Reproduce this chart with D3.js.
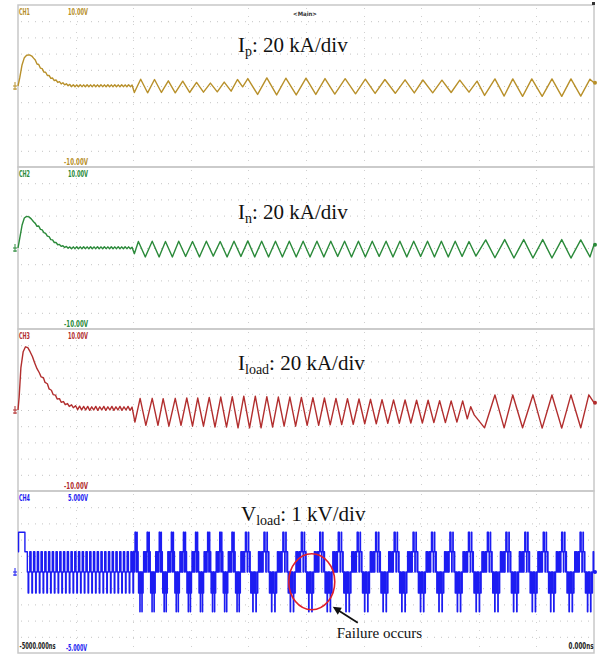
<!DOCTYPE html>
<html>
<head>
<meta charset="utf-8">
<script src="https://cdn.jsdelivr.net/npm/d3@7"></script>
<style>
  body { margin: 0; background: #fff; }
  svg { display: block; }
</style>
</head>
<body>
<div id="scope"></div>
<script>
// ---- data: x in horizontal divisions (0..10), y in vertical divisions from ground ----
const timeLabels = ["-5000.000ns", "0.000ns"];
const chNames = ["CH1", "CH2", "CH3", "CH4"];
const topLabels = ["10.00V", "10.00V", "10.00V", "5.000V"];
const bottomLabels = ["-10.00V", "-10.00V", "-10.00V", "-5.000V"];
const chColors = ["#b8902a", "#2b8a3a", "#b22e2e", "#1c1cf2"];
const titleBase = ["I", "I", "I", "V"];
const titleSub = ["p", "n", "load", "load"];
const titleRest = [": 20 kA/div", ": 20 kA/div", ": 20 kA/div", ": 1 kV/div"];
const titleBaselines = [52, 219, 370, 521];

const ipPoints = [
  [0,0],[0.03,0.5],[0.07,1.3],[0.11,1.75],[0.15,1.9],[0.2,1.92],[0.24,1.85],[0.27,1.72],
  [0.30,1.60],[0.33,1.36],[0.36,1.33],[0.39,1.10],[0.42,1.07],[0.45,0.86],[0.48,0.85],[0.51,0.65],
  [0.54,0.65],[0.57,0.47],[0.60,0.49],[0.63,0.33],[0.66,0.37],[0.69,0.22],[0.72,0.27],[0.75,0.13],
  [0.78,0.20],[0.81,0.07],[0.84,0.14],[0.87,0.02],[0.90,0.10],
  [0.93,-0.04],[0.96,0.08],[0.99,-0.05],[1.02,0.07],[1.05,-0.05],[1.08,0.08],[1.11,-0.04],[1.14,0.07],
  [1.17,-0.05],[1.20,0.08],[1.23,-0.05],[1.26,0.07],[1.29,-0.04],[1.32,0.08],[1.35,-0.05],[1.38,0.07],
  [1.41,-0.05],[1.44,0.08],[1.47,-0.04],[1.50,0.07],[1.53,-0.05],[1.56,0.08],[1.59,-0.05],[1.62,0.07],
  [1.65,-0.04],[1.68,0.08],[1.71,-0.05],[1.74,0.07],[1.77,-0.05],[1.80,0.08],[1.83,-0.04],[1.86,0.07],
  [1.89,-0.05],[1.92,0.08],[1.95,-0.04],[1.98,0.06],
  [2.02,-0.40],[2.13,0.42],[2.25,-0.42],[2.37,0.40],[2.49,-0.40],[2.61,0.32],[2.73,-0.42],[2.86,0.30],
  [2.98,-0.40],[3.10,0.22],[3.22,-0.38],[3.34,0.18],[3.46,-0.36],[3.58,0.24],[3.70,-0.32],[3.81,0.40],
  [3.90,-0.05],[3.99,0.46],[4.16,-0.52],[4.32,0.50],[4.49,-0.55],[4.65,0.48],[4.83,-0.55],[5.00,0.48],
  [5.17,-0.52],[5.33,0.46],[5.50,-0.50],[5.68,0.45],[5.86,-0.48],[6.03,0.42],[6.20,-0.46],[6.37,0.40],
  [6.55,-0.45],[6.72,0.38],[6.88,-0.43],[7.03,0.37],[7.20,-0.42],[7.36,0.36],[7.52,-0.40],[7.67,0.36],
  [7.83,-0.38],[7.97,0.30],[8.10,-0.58],[8.28,0.44],[8.44,-0.62],[8.59,0.44],[8.76,-0.64],[8.92,0.44],
  [9.10,-0.64],[9.27,0.44],[9.44,-0.64],[9.60,0.44],[9.77,-0.62],[9.93,0.42],[10.0,0.2]
];

const inPoints = [
  [0,0],[0.03,0.6],[0.07,1.4],[0.11,1.85],[0.15,1.95],[0.19,1.92],[0.23,1.8],[0.27,1.62],
  [0.30,1.52],[0.33,1.34],[0.36,1.36],[0.39,1.15],[0.42,1.12],[0.45,0.95],[0.48,0.90],[0.51,0.73],
  [0.54,0.70],[0.57,0.52],[0.60,0.50],[0.63,0.34],[0.66,0.34],[0.69,0.20],[0.72,0.22],[0.75,0.10],
  [0.78,0.14],[0.81,0.03],[0.84,0.10],[0.87,-0.02],[0.90,0.07],
  [0.93,-0.05],[0.96,0.07],[0.99,-0.04],[1.02,0.08],[1.05,-0.05],[1.08,0.07],[1.11,-0.05],[1.14,0.08],
  [1.17,-0.04],[1.20,0.07],[1.23,-0.05],[1.26,0.08],[1.29,-0.05],[1.32,0.07],[1.35,-0.04],[1.38,0.08],
  [1.41,-0.05],[1.44,0.07],[1.47,-0.05],[1.50,0.08],[1.53,-0.04],[1.56,0.07],[1.59,-0.05],[1.62,0.08],
  [1.65,-0.05],[1.68,0.07],[1.71,-0.04],[1.74,0.08],[1.77,-0.05],[1.80,0.07],[1.83,-0.05],[1.86,0.08],
  [1.89,-0.04],[1.92,0.07],[1.95,-0.05],[1.98,0.05],
  [2.02,-0.35],[2.09,0.40],[2.21,-0.55],[2.33,0.42],[2.45,-0.55],[2.56,0.40],[2.68,-0.55],[2.79,0.42],
  [2.91,-0.52],[3.03,0.40],[3.15,-0.55],[3.27,0.42],[3.39,-0.50],[3.51,0.40],[3.63,-0.55],[3.75,0.42],
  [3.87,-0.52],[3.99,0.44],[4.11,-0.55],[4.23,0.42],[4.35,-0.55],[4.47,0.42],[4.59,-0.55],[4.71,0.42],
  [4.83,-0.55],[4.95,0.42],[5.07,-0.55],[5.19,0.42],[5.31,-0.55],[5.43,0.42],[5.55,-0.52],[5.67,0.42],
  [5.79,-0.55],[5.91,0.42],[6.03,-0.55],[6.15,0.42],[6.27,-0.52],[6.39,0.42],[6.51,-0.55],[6.63,0.42],
  [6.75,-0.55],[6.87,0.42],[6.99,-0.52],[7.11,0.42],[7.23,-0.55],[7.35,0.42],[7.47,-0.55],[7.59,0.42],
  [7.71,-0.52],[7.83,0.40],[7.95,-0.50],[8.12,0.50],[8.28,-0.60],[8.45,0.52],[8.61,-0.62],[8.78,0.52],
  [8.94,-0.62],[9.11,0.52],[9.27,-0.62],[9.44,0.52],[9.60,-0.62],[9.77,0.50],[9.93,-0.55],[10.0,0.2]
];

const iloadPoints = [
  [0,0],[0.02,0.8],[0.05,2.6],[0.09,3.6],[0.13,3.9],[0.17,3.85],[0.21,3.6],[0.25,3.3],[0.29,2.9],
  [0.33,2.55],[0.37,2.3],[0.40,2.05],[0.44,2.0],[0.47,1.7],[0.51,1.62],[0.54,1.3],[0.58,1.22],
  [0.61,0.95],[0.65,0.92],[0.68,0.68],[0.72,0.70],[0.75,0.48],[0.79,0.52],[0.82,0.33],[0.86,0.40],
  [0.89,0.22],[0.93,0.32],[0.96,0.14],[1.00,0.26],
  [1.035,0.02],[1.07,0.24],[1.105,0.0],[1.14,0.22],[1.175,0.0],[1.21,0.22],[1.245,-0.02],[1.28,0.2],
  [1.315,0.0],[1.35,0.22],[1.385,-0.02],[1.42,0.2],[1.455,0.0],[1.49,0.22],[1.525,-0.02],[1.56,0.2],
  [1.595,0.0],[1.63,0.22],[1.665,-0.02],[1.70,0.2],[1.735,0.0],[1.77,0.22],[1.805,-0.02],[1.84,0.2],
  [1.875,0.0],[1.91,0.22],[1.945,-0.02],[1.98,0.18],
  [2.03,-0.75],[2.12,0.72],[2.22,-0.95],[2.33,0.72],[2.43,-0.95],[2.52,0.70],[2.62,-1.0],[2.73,0.72],
  [2.83,-0.95],[2.93,0.74],[3.03,-1.0],[3.12,0.74],[3.22,-1.0],[3.32,0.78],[3.42,-1.05],[3.52,0.80],
  [3.62,-1.05],[3.72,0.82],[3.82,-1.1],[3.92,0.85],[4.02,-1.1],[4.12,0.85],[4.22,-1.1],[4.32,0.82],
  [4.42,-1.05],[4.52,0.80],[4.62,-1.0],[4.72,0.80],[4.82,-1.0],[4.92,0.78],[5.02,-0.95],[5.12,0.76],
  [5.22,-0.95],[5.32,0.74],[5.42,-0.92],[5.52,0.72],[5.62,-0.9],[5.72,0.70],[5.82,-0.88],[5.92,0.68],
  [6.02,-0.85],[6.12,0.66],[6.22,-0.85],[6.32,0.64],[6.42,-0.82],[6.52,0.62],[6.62,-0.82],[6.72,0.62],
  [6.82,-0.8],[6.92,0.60],[7.02,-0.8],[7.12,0.60],[7.22,-0.78],[7.32,0.58],[7.42,-0.78],[7.52,0.56],
  [7.62,-0.75],[7.72,0.56],[7.80,-0.55],[7.86,0.2],[7.92,-0.3],[8.10,-1.1],[8.28,0.93],[8.44,-1.1],
  [8.59,0.93],[8.76,-1.1],[8.94,0.93],[9.10,-1.12],[9.27,0.93],[9.44,-1.12],[9.60,0.93],[9.77,-1.1],
  [9.91,0.93],[10.0,0.45]
];

// Vload: multilevel output, levels in divisions
const vLevels = [2.45, 1.25, 0, -1.3, -2.45];
const vStart = [[0,1.25],[0.01,2.45],[0.12,1.25],[0.14,1.25]];
const vPulseStarts = [0.14,0.205,0.27,0.335,0.40,0.465,0.53,0.595,0.66,0.725,0.79,0.855,0.92,0.985,
  1.05,1.115,1.18,1.245,1.31,1.375,1.44,1.505,1.57,1.635,1.70,1.765,1.83,1.895,1.96];
const vPulseShape = [[0,1],[0.022,2],[0.036,3],[0.046,2]];       // [offset, level index]
const vCycleStarts = [2.0,2.21,2.42,2.63,2.84,3.05,3.26,3.47,3.68,3.9,4.22,4.55,4.87,5.19,5.51,
  5.84,6.16,6.48,6.81,7.13,7.45,7.77,8.1,8.42,8.75,9.07,9.39,9.71];
// one fundamental cycle: [fraction of cycle, level index]
const vCycleShape = [
  [0,2],[0.03,1],[0.05,2],[0.07,1],[0.09,2],[0.11,1],[0.15,0],[0.17,1],[0.19,0],[0.21,1],
  [0.25,2],[0.27,1],[0.31,0],[0.33,1],[0.37,2],[0.39,1],[0.41,2],[0.44,3],[0.46,2],[0.48,3],
  [0.50,2],[0.52,3],[0.55,4],[0.57,3],[0.59,2],[0.61,3],[0.63,2],[0.65,3],[0.67,2],[0.69,3],
  [0.72,4],[0.74,3],[0.77,2],[0.79,3],[0.82,2],[0.86,1],[0.89,2],[0.93,1],[0.96,2]
];

// annotation
const failureLabel = "Failure occurs";
const failureSpot = [5.1, -0.6];   // centre of the red circle (div)

// ---- layout ----
const W = 608, H = 660;
const left = 18, right = 594, panelTop = 5, panelH = 162;
const labFont = "'DejaVu Sans Condensed', 'DejaVu Sans', sans-serif";

const svg = d3.select("#scope").append("svg")
  .attr("width", W).attr("height", H);

const x = d3.scaleLinear().domain([0, 10]).range([left, right]);

function smallLabel(g, px, py, txt, color, len, anchor) {
  return g.append("text").attr("x", px).attr("y", py)
    .attr("text-anchor", anchor || "start")
    .attr("font-family", labFont).attr("font-weight", "bold").attr("font-size", 8)
    .attr("fill", color).attr("textLength", len).attr("lengthAdjust", "spacingAndGlyphs")
    .text(txt);
}

chNames.forEach(function(name, i) {
  const top = panelTop + i * panelH;
  const y = d3.scaleLinear().domain([-5, 5]).range([top + panelH, top]);
  const g = svg.append("g");

  // dotted grid
  g.selectAll(".hgrid").data(d3.range(-4, 5)).enter().append("line")
    .attr("x1", left + 3).attr("x2", right - 2)
    .attr("y1", d => y(d) + 0.5).attr("y2", d => y(d) + 0.5)
    .attr("stroke", "#c4c4c4").attr("stroke-width", 1)
    .attr("stroke-dasharray", "1,6");
  g.selectAll(".vgrid").data(d3.range(1, 10)).enter().append("line")
    .attr("x1", d => Math.round(x(d)) + 0.5).attr("x2", d => Math.round(x(d)) + 0.5)
    .attr("y1", top + 3).attr("y2", top + panelH - 2)
    .attr("stroke", "#cfcfcf").attr("stroke-width", 1)
    .attr("stroke-dasharray", "1,7");

  // panel frame
  g.append("rect")
    .attr("x", left).attr("y", top)
    .attr("width", right - left).attr("height", panelH)
    .attr("fill", "none").attr("stroke", "#c8c8c8").attr("stroke-width", 1.5);

  // channel labels
  smallLabel(g, left + 1, top + 10, name, chColors[i], 11);
  smallLabel(g, 68, top + 10, topLabels[i], chColors[i], 20);
  if (i < 3) smallLabel(g, 64, top + panelH - 2, bottomLabels[i], chColors[i], 24);
  else smallLabel(g, 66, top + panelH - 2, bottomLabels[i], chColors[i], 21);

  // ground marker
  g.append("path")
    .attr("d", `M${left - 5},${y(0)} h4 M${left - 3},${y(0) - 4} v8 M${left - 5},${y(0) + 3} h4`)
    .attr("stroke", chColors[i]).attr("stroke-width", 1).attr("fill", "none");

  // title
  const t = g.append("text")
    .attr("x", i === 3 ? 241 : 238).attr("y", titleBaselines[i])
    .attr("font-family", "'Liberation Serif', 'Times New Roman', serif")
    .attr("font-size", 21).attr("fill", "#111");
  t.append("tspan").text(titleBase[i]);
  t.append("tspan").attr("font-size", 14).attr("dy", 4).text(titleSub[i]);
  t.append("tspan").attr("dy", -4).text(titleRest[i]);

  // traces
  let pts;
  if (i === 0) pts = ipPoints;
  else if (i === 1) pts = inPoints;
  else if (i === 2) pts = iloadPoints;
  else {
    pts = vStart.map(d => [d[0], d[1]]);
    vPulseStarts.forEach(s => vPulseShape.forEach(p => pts.push([s + p[0], vLevels[p[1]]])));
    for (let k = 0; k < vCycleStarts.length; k++) {
      const s = vCycleStarts[k];
      const len = (k + 1 < vCycleStarts.length ? vCycleStarts[k + 1] : 10.03) - s;
      vCycleShape.forEach(p => { if (s + p[0] * len <= 10) pts.push([s + p[0] * len, vLevels[p[1]]]); });
    }
    pts.push([10, 0]);
  }
  const line = d3.line()
    .x(d => x(d[0]))
    .y(d => y(d[1]));
  if (i === 3) line.curve(d3.curveStepAfter);

  g.append("path")
    .datum(pts)
    .attr("d", line)
    .attr("fill", "none")
    .attr("stroke", chColors[i])
    .attr("stroke-width", 1.4)
    .attr("stroke-linejoin", "round");

  // end-of-record marker
  const last = pts[pts.length - 1];
  g.append("circle").attr("cx", x(10) + 1).attr("cy", y(last[1])).attr("r", 2)
    .attr("fill", chColors[i]);

  if (i === 3) {
    // failure annotation
    const cx = x(failureSpot[0]), cy = y(failureSpot[1]);
    g.append("ellipse").attr("cx", cx).attr("cy", cy).attr("rx", 23).attr("ry", 28)
      .attr("fill", "none").attr("stroke", "#e0202a").attr("stroke-width", 1.6);
    g.append("line")
      .attr("x1", cx + 46).attr("y1", cy + 41)
      .attr("x2", cx + 24).attr("y2", cy + 27)
      .attr("stroke", "#111").attr("stroke-width", 1.8);
    g.append("path")
      .attr("d", `M${cx + 21},${cy + 25} l9,1 l-4,7 z`)
      .attr("fill", "#111");
    g.append("text").attr("x", cx + 25).attr("y", cy + 56)
      .attr("font-family", "'Liberation Serif', 'Times New Roman', serif")
      .attr("font-size", 15).attr("fill", "#111").text(failureLabel);
  }
});

// time axis labels
const axis = d3.axisBottom(x).tickValues([0, 10])
  .tickFormat((d, k) => timeLabels[k]).tickSize(0);
const ax = svg.append("g")
  .attr("transform", `translate(0, ${panelTop + 4 * panelH - 13})`)
  .call(axis);
ax.select(".domain").remove();
ax.selectAll("text")
  .attr("font-family", labFont).attr("font-weight", "bold").attr("font-size", 8)
  .attr("fill", "#222")
  .attr("text-anchor", (d, k) => k === 0 ? "start" : "end")
  .attr("dx", (d, k) => k === 0 ? 1 : -1)
  .attr("textLength", (d, k) => k === 0 ? 36 : 25)
  .attr("lengthAdjust", "spacingAndGlyphs");

// top marker and trigger position
svg.append("text").attr("x", 305).attr("y", 16).attr("text-anchor", "middle")
  .attr("font-family", labFont).attr("font-weight", "bold").attr("font-size", 6)
  .attr("fill", "#333").text("<Main>");
svg.append("rect").attr("x", x(10) - 2).attr("y", 2).attr("width", 3).attr("height", 3)
  .attr("fill", "#333");
</script>
</body>
</html>
